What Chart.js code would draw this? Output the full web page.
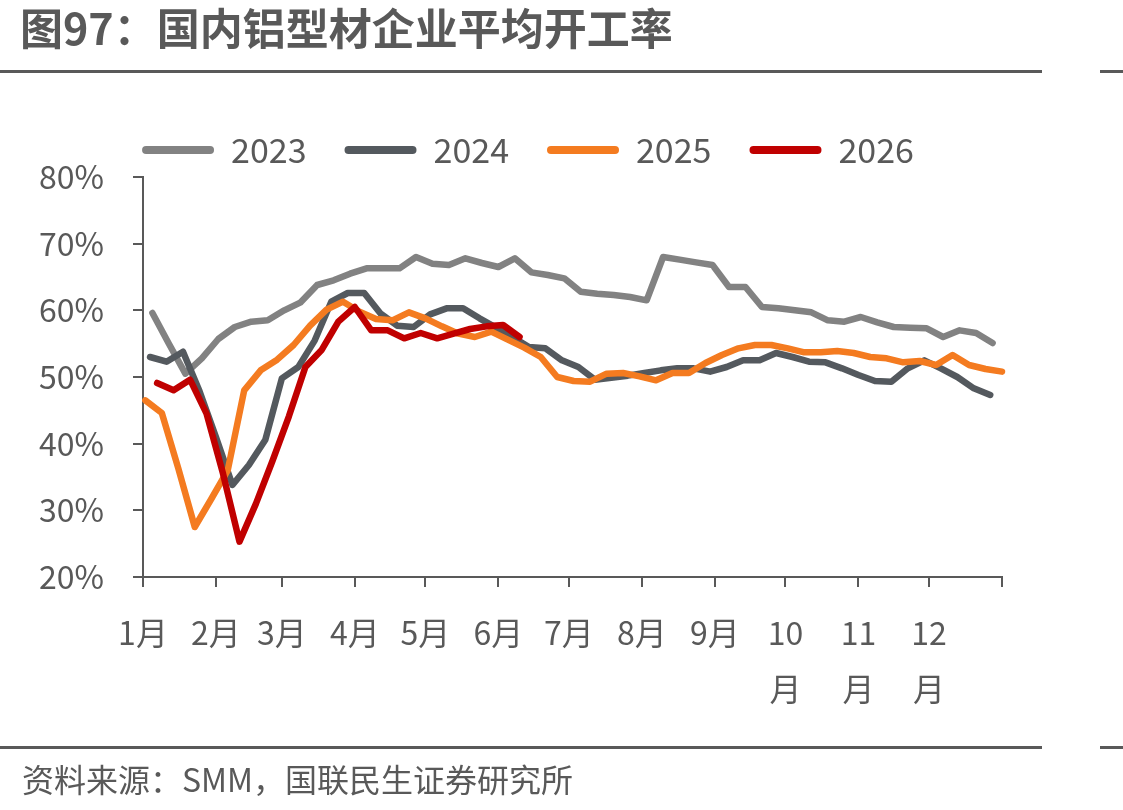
<!DOCTYPE html>
<html><head><meta charset="utf-8">
<script src="https://cdn.jsdelivr.net/npm/chart.js@4.4.1/dist/chart.umd.min.js"></script>
<style>
html,body{margin:0;padding:0;background:#fff;}
body{width:1123px;height:810px;position:relative;overflow:hidden;font-family:"Noto Sans CJK SC","Noto Sans",sans-serif;}
#wrap{position:absolute;left:0;top:0;width:1123px;height:810px;}
#title{position:absolute;left:20px;top:1px;font-size:43px;font-weight:bold;color:#595959;line-height:50px;white-space:nowrap;}
.rule{position:absolute;height:3px;background:#595959;}
#source{position:absolute;left:22px;top:757px;font-size:32px;color:#595959;line-height:42px;white-space:nowrap;}
</style></head><body>
<div id="wrap"><canvas id="c" width="1123" height="810"></canvas></div>
<div id="title">图97：国内铝型材企业平均开工率</div>
<div class="rule" style="left:0;top:70px;width:1042px"></div>
<div class="rule" style="left:1100px;top:70px;width:23px"></div>
<div class="rule" style="left:0;top:746px;width:1042px"></div>
<div class="rule" style="left:1100px;top:746px;width:23px"></div>
<div id="source">资料来源：SMM，国联民生证券研究所</div>
<script>
// ---- data (weekly average operating rate, %) ----
const years = ['2023', '2024', '2025', '2026'];
const startDays = [4, 3, 1, 6];          // day-of-year of first weekly reading
const rate2023 = [59.6, 55.0, 50.5, 52.8, 55.7, 57.5, 58.3, 58.5, 60.0, 61.2,
  63.8, 64.5, 65.5, 66.3, 66.3, 66.3, 68.0, 67.0, 66.8, 67.8,
  67.1, 66.5, 67.8, 65.7, 65.3, 64.8, 62.8, 62.5, 62.3, 62.0,
  61.5, 68.0, 67.6, 67.2, 66.8, 63.5, 63.5, 60.5, 60.3, 60.0,
  59.7, 58.5, 58.3, 59.0, 58.2, 57.5, 57.4, 57.3, 56.0, 57.0,
  56.6, 55.1];
const rate2024 = [53.0, 52.3, 53.8, 47.9, 41.0, 33.8, 36.8, 40.6, 49.8, 51.5,
  55.5, 61.3, 62.6, 62.6, 59.5, 57.7, 57.5, 59.4, 60.3, 60.3,
  58.8, 57.4, 56.0, 54.5, 54.3, 52.5, 51.5, 49.6, 49.9, 50.2,
  50.6, 51.0, 51.3, 51.3, 50.8, 51.5, 52.5, 52.5, 53.6, 53.0,
  52.3, 52.2, 51.3, 50.3, 49.4, 49.3, 51.3, 52.5, 51.3, 50.0,
  48.3, 47.3];
const rate2025 = [46.5, 44.6, 36.3, 27.5, 31.7, 36.0, 48.0, 51.0, 52.6, 54.8,
  57.7, 60.1, 61.3, 59.8, 58.7, 58.5, 59.7, 58.8, 57.6, 56.5,
  56.0, 56.8, 55.6, 54.4, 53.0, 50.0, 49.4, 49.3, 50.5, 50.6,
  50.1, 49.5, 50.6, 50.6, 52.1, 53.3, 54.3, 54.8, 54.8, 54.3,
  53.7, 53.7, 53.9, 53.6, 53.0, 52.8, 52.2, 52.4, 51.8, 53.3,
  51.8, 51.2, 50.8];
const rate2026 = [49.1, 48.0, 49.6, 44.5, 35.5, 25.3, 31.0, 37.4, 44.1, 51.5,
  54.1, 58.3, 60.5, 57.0, 57.0, 55.8, 56.6, 55.8, 56.5, 57.2,
  57.6, 57.8, 56.0];
const seriesValues = [rate2023, rate2024, rate2025, rate2026];
const seriesColors = ['#828282', '#54595E', '#F47B20', '#C00000'];
const monthStartDays = [0, 31, 59, 90, 120, 151, 181, 212, 243, 273, 304, 334, 365];
const monthLabels = ['1月', '2月', '3月', '4月', '5月', '6月', '7月', '8月', '9月',
  ['10', '月'], ['11', '月'], ['12', '月'], ''];
const yTicks = [20, 30, 40, 50, 60, 70, 80];

// ---- chart ----
const FONT = '"Noto Sans CJK SC", "Noto Sans", sans-serif';
const TEXT = '#595959';
const AXIS = '#595959';
const PAD_LEFT = 54;
const PLOT_LEFT = 143;

const datasets = years.map((y, i) => ({
  label: y,
  data: seriesValues[i].map((v, k) => ({ x: startDays[i] + 7 * k, y: v })),
  borderColor: seriesColors[i],
  backgroundColor: seriesColors[i],
  borderWidth: 6.5,
  pointRadius: 0,
  tension: 0,
  fill: false,
  spanGaps: true,
  borderJoinStyle: 'round',
  borderCapStyle: 'round',
  clip: false,
  order: years.length - i
}));

new Chart(document.getElementById('c'), {
  type: 'line',
  data: { datasets },
  options: {
    responsive: false,
    animation: false,
    devicePixelRatio: 1,
    layout: { padding: { left: PAD_LEFT, right: 121, top: 95, bottom: 0 } },
    plugins: {
      tooltip: { enabled: false },
      legend: {
        position: 'top',
        align: 'center',
        labels: {
          boxWidth: 72,
          boxHeight: 8,
          padding: 38,
          color: TEXT,
          font: { family: FONT, size: 34 },
          sort: (a, b) => a.datasetIndex - b.datasetIndex,
          generateLabels: (chart) => Chart.defaults.plugins.legend.labels.generateLabels(chart)
            .map(it => Object.assign(it, { fillStyle: it.strokeStyle, lineWidth: 0, borderRadius: 4 }))
        }
      }
    },
    scales: {
      x: {
        type: 'linear',
        min: 0,
        max: 365,
        afterBuildTicks: (s) => { s.ticks = monthStartDays.map(v => ({ value: v })); },
        afterFit: (s) => { s.height = 233; },
        grid: { drawOnChartArea: false, drawTicks: true, tickLength: 10, color: AXIS, lineWidth: 2 },
        border: { color: AXIS, width: 2 },
        ticks: {
          autoSkip: false, maxRotation: 0, minRotation: 0, padding: 18,
          color: TEXT, font: { family: FONT, size: 32, lineHeight: 1.75 },
          callback: (v, i) => monthLabels[i]
        }
      },
      y: {
        min: 20,
        max: 80,
        afterBuildTicks: (s) => { s.ticks = yTicks.map(v => ({ value: v })); },
        afterFit: (s) => { s.width = PLOT_LEFT - PAD_LEFT; },
        grid: { drawOnChartArea: false, drawTicks: true, tickLength: 10, color: AXIS, lineWidth: 2 },
        border: { color: AXIS, width: 2 },
        ticks: {
          mirror: true, padding: -104,
          color: TEXT, font: { family: FONT, size: 32 },
          callback: (v) => v + '%'
        }
      }
    }
  }
});
</script>
</body></html>
